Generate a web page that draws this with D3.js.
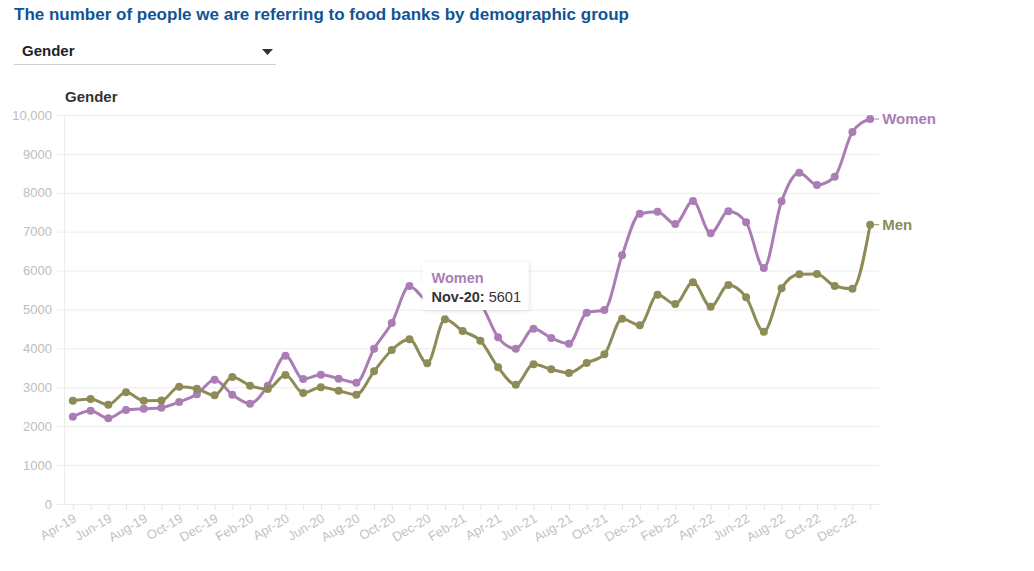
<!DOCTYPE html>
<html>
<head>
<meta charset="utf-8">
<script src="https://cdn.jsdelivr.net/npm/d3@7"></script>
<style>
  html, body { margin: 0; padding: 0; background: #fff; }
  svg { display: block; font-family: "Liberation Sans", Arial, sans-serif; }
</style>
</head>
<body>
<svg id="chart" width="1034" height="571"></svg>
<script>
// Monthly referrals by gender, April 2019 to January 2023
const months = [
  "Apr-19","May-19","Jun-19","Jul-19","Aug-19","Sep-19","Oct-19","Nov-19","Dec-19",
  "Jan-20","Feb-20","Mar-20","Apr-20","May-20","Jun-20","Jul-20","Aug-20","Sep-20","Oct-20","Nov-20","Dec-20",
  "Jan-21","Feb-21","Mar-21","Apr-21","May-21","Jun-21","Jul-21","Aug-21","Sep-21","Oct-21","Nov-21","Dec-21",
  "Jan-22","Feb-22","Mar-22","Apr-22","May-22","Jun-22","Jul-22","Aug-22","Sep-22","Oct-22","Nov-22","Dec-22",
  "Jan-23"
];
const women = [
  2244, 2399, 2203, 2416, 2450, 2476, 2622, 2819, 3196,
  2811, 2579, 3042, 3813, 3213, 3325, 3222, 3119, 3993, 4653, 5601, 5250,
  5650, 5400, 5150, 4284, 3993, 4507, 4267, 4121, 4918, 4987, 6393, 7463,
  7514, 7198, 7789, 6958, 7524, 7241, 6067, 7781, 8517, 8201, 8414, 9563,
  9897
];
const men = [
  2656, 2699, 2553, 2871, 2656, 2660, 3016, 2965, 2794,
  3265, 3042, 2956, 3316, 2853, 2999, 2913, 2811, 3410, 3959, 4233, 3616,
  4747, 4447, 4199, 3513, 3068, 3590, 3462, 3368, 3625, 3848, 4764, 4593,
  5381, 5141, 5699, 5072, 5630, 5313, 4430, 5545, 5905, 5913, 5604, 5535,
  7180
];
const seriesNames = ["Women", "Men"];
const seriesColors = ["#aa7db5", "#8d8b56"];
const yTicks = [0, 1000, 2000, 3000, 4000, 5000, 6000, 7000, 8000, 9000, 10000];
const tooltipMonth = "Nov-20";

const series = [
  { name: seriesNames[0], color: seriesColors[0], values: women },
  { name: seriesNames[1], color: seriesColors[1], values: men }
];

const svg = d3.select("#chart");

// Heading and selector
svg.append("text")
  .attr("x", 14).attr("y", 20)
  .attr("font-size", 17).attr("font-weight", "bold")
  .attr("fill", "#0f5596")
  .text("The number of people we are referring to food banks by demographic group");

svg.append("text")
  .attr("x", 22).attr("y", 56)
  .attr("font-size", 15).attr("font-weight", "bold")
  .attr("fill", "#222")
  .text("Gender");
svg.append("path")
  .attr("d", "M262,49 L273,49 L267.5,55 Z")
  .attr("fill", "#333");
svg.append("line")
  .attr("x1", 14).attr("x2", 276).attr("y1", 64.5).attr("y2", 64.5)
  .attr("stroke", "#cfcfcf").attr("stroke-width", 1);

svg.append("text")
  .attr("x", 65).attr("y", 102)
  .attr("font-size", 15).attr("font-weight", "bold")
  .attr("fill", "#333")
  .text("Gender");

// Scales
const x = d3.scalePoint().domain(months).range([64, 879]).padding(0.5);
const y = d3.scaleLinear().domain([0, 10000]).range([504, 115]);

// Gridlines and y labels
const yAxis = d3.axisLeft(y)
  .tickValues(yTicks)
  .tickSize(-(879 - 57))
  .tickPadding(5)
  .tickFormat(d => d >= 10000 ? d3.format(",")(d) : String(d));
const gy = svg.append("g").attr("transform", "translate(57,0)").call(yAxis);
gy.select(".domain").remove();
gy.selectAll(".tick line").attr("stroke", "#ececec").attr("stroke-width", 1);
gy.selectAll(".tick text")
  .attr("fill", "#bdbdbd").attr("font-size", 13)
  .attr("font-family", "\"Liberation Sans\", Arial, sans-serif");

// Vertical axis line
svg.append("line")
  .attr("x1", 64.5).attr("x2", 64.5).attr("y1", 115).attr("y2", 504)
  .attr("stroke", "#ececec");

// x axis
const xAxis = d3.axisBottom(x)
  .tickSize(6)
  .tickSizeOuter(0)
  .tickFormat((d, i) => i % 2 === 0 ? d : "");
const gx = svg.append("g").attr("transform", "translate(0,504)").call(xAxis);
gx.select(".domain").attr("stroke", "#ececec").attr("d", "M57,0.5H879");
gx.selectAll(".tick line").attr("stroke", "#e6e6e6");
gx.selectAll(".tick text")
  .attr("fill", "#c2c2c2").attr("font-size", 13)
  .attr("font-family", "\"Liberation Sans\", Arial, sans-serif")
  .attr("text-anchor", "end")
  .attr("dy", null).attr("y", 0)
  .attr("transform", "translate(4,17) rotate(-30)");

// Lines, markers and end labels
const line = d3.line()
  .x((d, i) => x(months[i]))
  .y(d => y(d))
  .curve(d3.curveMonotoneX);

const gSeries = svg.append("g");
series.forEach(s => {
  gSeries.append("path")
    .attr("d", line(s.values))
    .attr("fill", "none")
    .attr("stroke", s.color)
    .attr("stroke-width", 3)
    .attr("stroke-linejoin", "round");
  gSeries.selectAll(null)
    .data(s.values)
    .enter().append("circle")
    .attr("cx", (d, i) => x(months[i]))
    .attr("cy", d => y(d))
    .attr("r", 4)
    .attr("fill", s.color);

  const last = s.values.length - 1;
  const lx = x(months[last]);
  const ly = y(s.values[last]);
  gSeries.append("line")
    .attr("x1", lx + 4).attr("x2", lx + 9)
    .attr("y1", ly).attr("y2", ly)
    .attr("stroke", s.color).attr("stroke-width", 1);
  gSeries.append("text")
    .attr("x", lx + 12).attr("y", ly + 5)
    .attr("font-size", 15).attr("font-weight", "bold")
    .attr("fill", s.color)
    .text(s.name);
});

// Tooltip for the highlighted point
const ti = months.indexOf(tooltipMonth);
const px = x(tooltipMonth);
const py = y(women[ti]);
const bx = px + 13, by = py - 24, bw = 106, bh = 48, r = 3;
const tipPath = [
  `M${bx + r},${by}`,
  `H${bx + bw - r}`, `Q${bx + bw},${by} ${bx + bw},${by + r}`,
  `V${by + bh - r}`, `Q${bx + bw},${by + bh} ${bx + bw - r},${by + bh}`,
  `H${bx + r}`, `Q${bx},${by + bh} ${bx},${by + bh - r}`,
  `V${py + 6}`, `L${px + 3},${py}`, `L${bx},${py - 6}`,
  `V${by + r}`, `Q${bx},${by} ${bx + r},${by}`, "Z"
].join(" ");

const defs = svg.append("defs");
const f = defs.append("filter").attr("id", "tipShadow")
  .attr("x", "-20%").attr("y", "-30%").attr("width", "140%").attr("height", "160%");
f.append("feDropShadow")
  .attr("dx", 1).attr("dy", 1).attr("stdDeviation", 2)
  .attr("flood-color", "#000").attr("flood-opacity", 0.12);

const tip = svg.append("g");
tip.append("path").attr("d", tipPath)
  .attr("fill", "#fff").attr("filter", "url(#tipShadow)");
tip.append("text")
  .attr("x", bx + 9).attr("y", by + 21)
  .attr("font-size", 14.5).attr("font-weight", "bold")
  .attr("fill", seriesColors[0])
  .text(seriesNames[0]);
const tt = tip.append("text")
  .attr("x", bx + 9).attr("y", by + 40)
  .attr("font-size", 14.5).attr("fill", "#333");
tt.append("tspan").attr("font-weight", "bold").text(tooltipMonth + ":");
tt.append("tspan").text(" " + women[ti]);
</script>
</body>
</html>
